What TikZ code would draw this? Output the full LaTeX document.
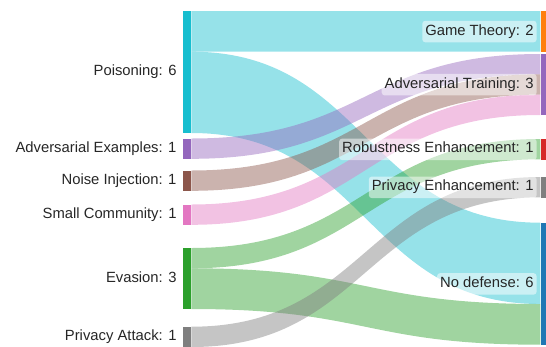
\documentclass[tikz,border=0pt]{standalone}
\usepackage{fontspec}
\setmainfont{Liberation Sans}
\usepackage{xcolor}
\usetikzlibrary{positioning,calc}

\definecolor{cPoison}{HTML}{17BECF}
\definecolor{cAdvEx}{HTML}{9467BD}
\definecolor{cNoise}{HTML}{8C564B}
\definecolor{cSmall}{HTML}{E377C2}
\definecolor{cEvasion}{HTML}{2CA02C}
\definecolor{cPrivacy}{HTML}{7F7F7F}
\definecolor{cGame}{HTML}{FF7F0E}
\definecolor{cRobust}{HTML}{D62728}
\definecolor{cNoDef}{HTML}{1F77B4}

% one band of the sankey: colour, source, offset, target, offset, thickness
\newcommand{\flow}[6]{%
  \path[band, fill=#1] let \p1=($(#2.north east)+(0,#3)$), \p2=($(#4.north west)+(0,#5)$),
      \p3=($(\p1)!.5!(\p2)$) in
    (\p1) .. controls (\x3,\y1) and (\x3,\y2) .. (\p2)
    -- (\x2,\y2-#6pt) .. controls (\x3,\y2-#6pt) and (\x3,\y1-#6pt) .. (\x1,\y1-#6pt) -- cycle;}

\begin{document}
\begin{tikzpicture}[
    x=1pt, y=-1pt,
    bar/.style={rectangle, inner sep=0pt, minimum width=8.3pt, anchor=north west},
    lbl/.style={font=\fontsize{14.8}{16}\selectfont, text=black!85, inner sep=0pt,
                text height=0.716em, text depth=0pt},
    tag/.style={lbl, fill=white, fill opacity=0.5, text opacity=1, rounded corners=3pt,
                inner xsep=3pt, minimum height=21.5pt},
    band/.style={fill opacity=0.45}
]
    \useasboundingbox (0,0) rectangle (546,346);

    % sources
    \node[bar, fill=cPoison, minimum height=122pt] (poison) at (182.7,11) {};
    \node[bar, fill=cAdvEx, minimum height=20.3pt] (advex) at (182.7,138.5) {};
    \node[bar, fill=cNoise, minimum height=20.3pt] (noise) at (182.7,170.5) {};
    \node[bar, fill=cSmall, minimum height=20.3pt] (small) at (182.7,204.5) {};
    \node[bar, fill=cEvasion, minimum height=61pt] (evasion) at (182.7,248) {};
    \node[bar, fill=cPrivacy, minimum height=20.3pt] (privacy) at (182.7,326.7) {};

    % targets
    \node[bar, fill=cGame, minimum height=40.7pt] (game) at (540.3,11) {};
    \node[bar, fill=cAdvEx, minimum height=61pt] (advtrain) at (540.3,54) {};
    \node[bar, fill=cRobust, minimum height=20.3pt] (robust) at (540.3,139) {};
    \node[bar, fill=cPrivacy, minimum height=20.3pt] (privenh) at (540.3,177) {};
    \node[bar, fill=cNoDef, minimum height=122pt] (nodef) at (540.3,222.7) {};

    \flow{cPoison}{poison}{0}{game}{0}{40.7}
    \flow{cPoison}{poison}{40.7}{nodef}{0}{81.3}
    \flow{cAdvEx}{advex}{0}{advtrain}{0}{20.3}
    \flow{cNoise}{noise}{0}{advtrain}{20.3}{20.3}
    \flow{cSmall}{small}{0}{advtrain}{40.7}{20.3}
    \flow{cEvasion}{evasion}{0}{robust}{0}{20.3}
    \flow{cEvasion}{evasion}{20.3}{nodef}{81.3}{40.7}
    \flow{cPrivacy}{privacy}{0}{privenh}{0}{20.3}

    \node[lbl, left=6pt of poison] {Poisoning: 6};
    \node[lbl, left=6pt of advex] {Adversarial Examples: 1};
    \node[lbl, left=6pt of noise] {Noise Injection: 1};
    \node[lbl, left=6pt of small] {Small Community: 1};
    \node[lbl, left=6pt of evasion] {Evasion: 3};
    \node[lbl, left=6pt of privacy] {Privacy Attack: 1};

    \node[tag, left=3.5pt of game] {Game Theory: 2};
    \node[tag, left=3.5pt of advtrain] {Adversarial Training: 3};
    \node[tag, left=3.5pt of robust] {Robustness Enhancement: 1};
    \node[tag, left=3.5pt of privenh] {Privacy Enhancement: 1};
    \node[tag, left=3.5pt of nodef] {No defense: 6};

\end{tikzpicture}
\end{document}
